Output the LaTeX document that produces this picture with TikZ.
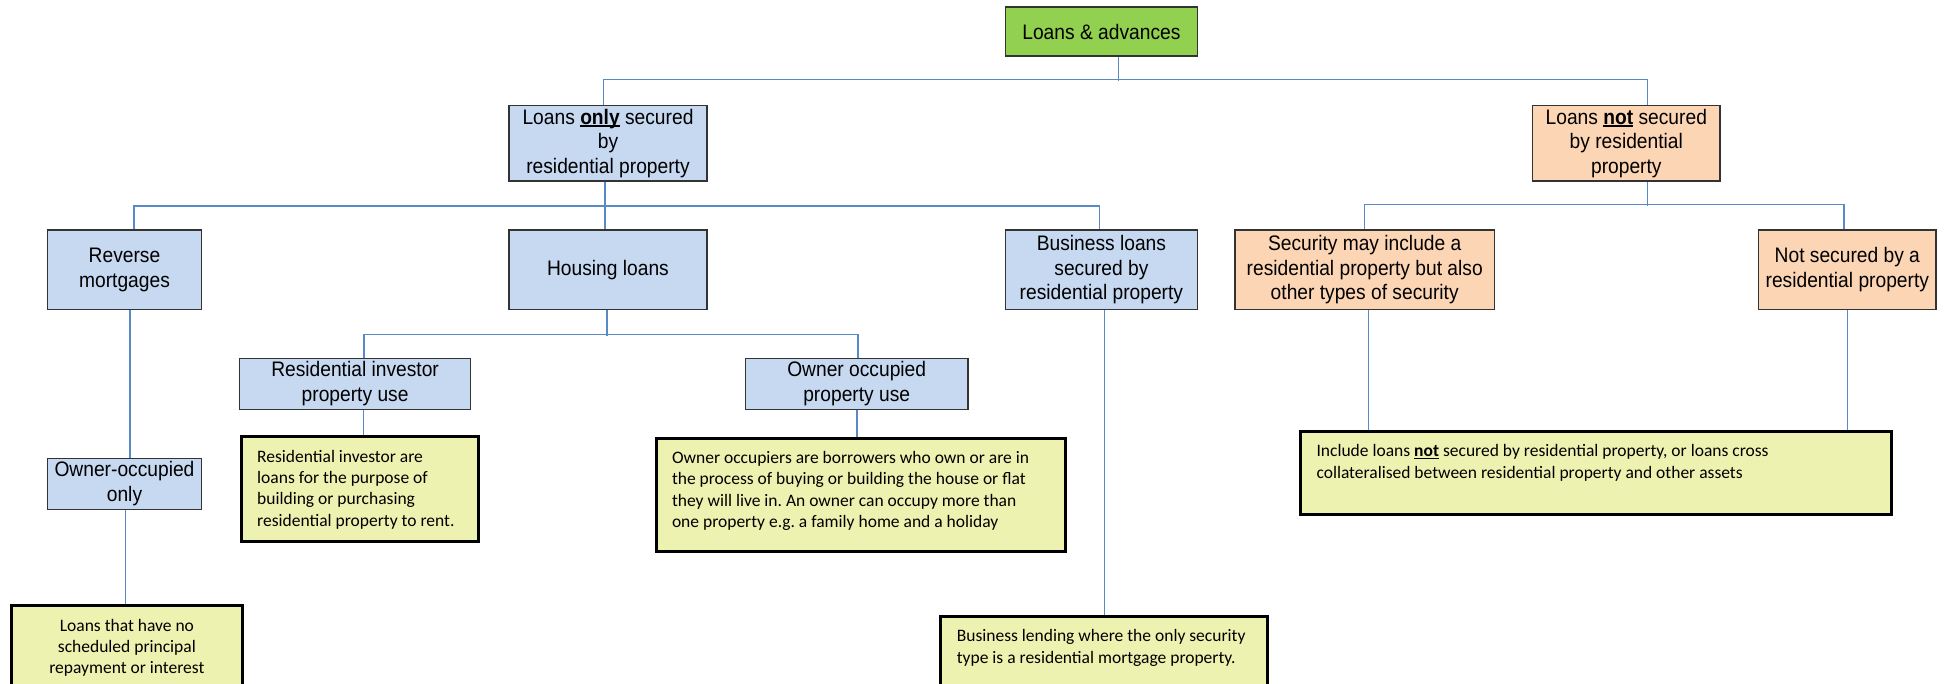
\documentclass[tikz,border=0pt]{standalone}
\usepackage{fontspec}
\usetikzlibrary{calc}
\setmainfont{Liberation Sans}
\newfontfamily\boxfont[FakeStretch=0.915]{Liberation Sans}
\newfontfamily\notefont{Carlito}
\definecolor{leafblue}{HTML}{C6D9F1}
\definecolor{peach}{HTML}{FCD5B5}
\definecolor{rootgreen}{HTML}{92D050}
\definecolor{noteyellow}{HTML}{EEF2B0}
\definecolor{wire}{HTML}{5A89C8}
\definecolor{edgegray}{HTML}{333333}

% underline sitting just below the baseline, through any descenders
\newcommand\undl[1]{{\setbox0\hbox{#1}\rlap{\rule[-1.2pt]{\wd0}{0.6pt}}\box0}}

\tikzset{
  box/.style={draw=edgegray, line width=0.7pt, inner sep=0pt, align=center,
              font=\boxfont\fontsize{10.5}{12.35}\selectfont},
  bluebox/.style={box, fill=leafblue},
  peachbox/.style={box, fill=peach},
  greenbox/.style={box, fill=rootgreen},
  note/.style={draw=black, line width=1.5pt, fill=noteyellow, anchor=north west,
               inner xsep=8pt, inner ysep=5.25pt,
               font=\notefont\fontsize{8.75}{10.65}\selectfont\frenchspacing},
  conn/.style={draw=wire, line width=0.65pt},
}

\begin{document}
\begin{tikzpicture}[x=0.5pt, y=-0.5pt]
\useasboundingbox (0,0) rectangle (1946,684);
\clip (0,0) rectangle (1946,684);

% root
\node[greenbox, minimum width=96pt, minimum height=24.5pt] (adv) at (1101.4,31.5) {Loans \& advances};

% first level
\node[bluebox, minimum width=99pt, minimum height=37.65pt] (only) at (608,143.4)
  {Loans \undl{\textbf{only}} secured\\by\\residential property};
\node[peachbox, minimum width=93.7pt, minimum height=37.65pt] (not) at (1626.3,143.4)
  {Loans \undl{\textbf{not}} secured\\by residential\\property};

% second level
\node[bluebox, minimum width=77.25pt, minimum height=39.65pt] (rev) at (124.5,269.7) {Reverse\\mortgages};
\node[bluebox, minimum width=99pt, minimum height=39.65pt] (housing) at (608,269.7) {Housing loans};
\node[bluebox, minimum width=96pt, minimum height=39.65pt] (business) at (1101.4,269.7)
  {Business loans\\secured by\\residential property};
\node[peachbox, minimum width=129.9pt, minimum height=39.65pt] (secmay) at (1364.7,269.7)
  {Security may include a\\residential property but also\\other types of security};
\node[peachbox, minimum width=88.75pt, minimum height=39.65pt] (notsec) at (1847.3,269.7)
  {Not secured by a\\residential property};

% third level
\node[bluebox, minimum width=115.4pt, minimum height=25.5pt] (resinv) at (355.1,383.8) {Residential investor\\property use};
\node[bluebox, minimum width=111.2pt, minimum height=25.5pt] (ownocc) at (856.7,383.8) {Owner occupied\\property use};
\node[bluebox, minimum width=77.25pt, minimum height=25.5pt] (ooonly) at (124.5,483.8) {Owner-occupied\\only};

% explanatory notes
\node[note] (nloans) at (9.8,604.3)
  {\parbox[t][37.35pt][t]{99.6pt}{\centering\strut Loans that have no\\scheduled principal\\repayment or interest}};
\node[note] (nresinv) at (239.7,435.3)
  {\parbox[t][41.85pt][t]{102.55pt}{\raggedright\strut Residential investor are\\loans for the purpose of\\building or purchasing\\residential property to rent.}};
\node[note] (nown) at (654.5,436.7)
  {\parbox[t][46.15pt][t]{188.65pt}{\raggedright\strut Owner occupiers are borrowers who own or are in\\the process of buying or building the house or flat\\they will live in. An owner can occupy more than\\one property e.g. a family home and a holiday}};
\node[note] (nbus) at (939.3,615)
  {\parbox[t][32pt][t]{147.35pt}{\raggedright\strut Business lending where the only security\\type is a residential mortgage property.}};
\node[note] (nincl) at (1299,430)
  {\parbox[t][30.85pt][t]{279.35pt}{\raggedright\strut Include loans \undl{\textbf{not}} secured by residential property, or loans cross\\collateralised between residential property and other assets}};

% root to first level
\draw[conn] ($(adv.south)+(17.3,0)$) -- ++(0,24.3);
\draw[conn] ($(only.north)+(-4.4,0)$) -- ++(0,-25.4) -| ($(not.north)+(21,0)$);

% secured branch
\draw[conn] ($(only.south)+(-3,0)$) -- ($(housing.north)+(-3,0)$);
\draw[conn] ($(rev.north)+(9.5,0)$) -- ++(0,-23.3) -| ($(business.north)+(-1.8,0)$);

% not secured branch
\draw[conn] ($(not.south)+(21,0)$) -- ++(0,24);
\draw[conn] (secmay.north) -- ++(0,-25) -| ($(notsec.north)+(-3.3,0)$);

% housing loans split
\draw[conn] ($(housing.south)+(-1,0)$) -- ++(0,25.7);
\draw[conn] ($(resinv.north)+(8.9,0)$) -- ++(0,-23.3) -| ($(ownocc.north)+(1.3,0)$);

% leaves to notes
\coordinate (s1) at ($(resinv.south)+(8.4,0)$);
\draw[conn] (s1) -- (s1 |- nresinv.north);
\coordinate (s2) at ($(ownocc.south)+(0.3,0)$);
\draw[conn] (s2) -- (s2 |- nown.north);
\draw[conn] ($(rev.south)+(5.5,0)$) -- ($(ooonly.north)+(5.5,0)$);
\coordinate (s3) at ($(ooonly.south)+(0.9,0)$);
\draw[conn] (s3) -- (s3 |- nloans.north);
\coordinate (s4) at ($(business.south)+(3.1,0)$);
\draw[conn] (s4) -- (s4 |- nbus.north);
\coordinate (s5) at ($(secmay.south)+(4,0)$);
\draw[conn] (s5) -- (s5 |- nincl.north);
\coordinate (s6) at ($(notsec.south)+(0.5,0)$);
\draw[conn] (s6) -- (s6 |- nincl.north);
\end{tikzpicture}
\end{document}
